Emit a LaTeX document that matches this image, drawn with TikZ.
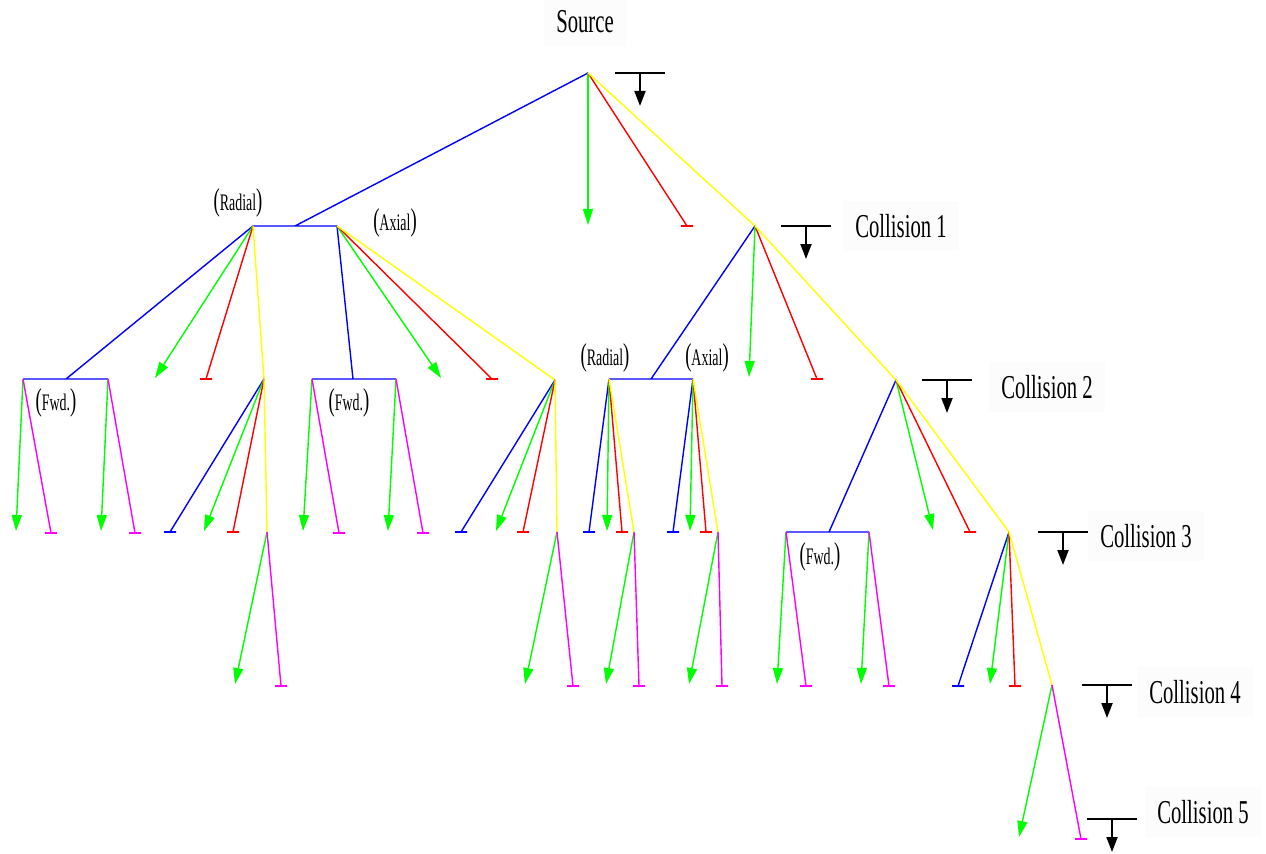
\documentclass[tikz,border=0pt]{standalone}
\usepackage{fontspec}
\setmainfont{Liberation Serif}
\usetikzlibrary{arrows.meta}
\definecolor{bl}{RGB}{0,0,255}
\definecolor{gn}{RGB}{0,255,0}
\definecolor{rd}{RGB}{255,0,0}
\definecolor{yl}{RGB}{255,255,0}
\definecolor{mg}{RGB}{255,0,255}
\definecolor{boxgrey}{RGB}{252,252,252}
\newcommand\squeezetext[1]{\scalebox{0.62}[1]{#1}}
\newcommand\parlabel[1]{\squeezetext{\fontsize{18}{18}\selectfont(\fontsize{13.5}{13.5}\selectfont #1\fontsize{18}{18}\selectfont)}}
\tikzset{
  br/.style={line width=0.8pt},
  esc/.style={br, gn, -{Triangle[length=0.32cm,width=0.2cm]}},
  tee/.style={draw=#1, line width=0.8pt, minimum width=0.24cm, minimum height=0pt, inner sep=0pt, outer sep=0pt},
  lbl/.style={fill=boxgrey, inner xsep=0.24cm, inner ysep=0.26cm, font=\fontsize{19}{19}\selectfont},
  plbl/.style={inner sep=0pt, xscale=0.95},
  dropmark/.pic={
    \draw[line width=1.1pt] (-25,0) -- (25,0);
    \draw[line width=1.1pt, -{Triangle[length=0.3cm,width=0.22cm]}] (0,0) -- (0,33);
  }
}
\begin{document}
\begin{tikzpicture}[x=0.02cm, y=-0.02cm]
\useasboundingbox (0,0) rectangle (1266,854);
% junctions
\coordinate (src) at (588,73);
\coordinate (c1) at (755,226);
\coordinate (c2) at (896,380);
\coordinate (c3) at (1009,532);
\coordinate (c4) at (1052,685);
\coordinate (rad1) at (253,226);
\coordinate (ax1) at (337,226);
\coordinate (m1) at (295,226);
\coordinate (fw1l) at (23,379);
\coordinate (fw1r) at (108,379);
\coordinate (m11) at (66,379);
\coordinate (y1) at (264,379);
\coordinate (y1b) at (267,532);
\coordinate (fw2l) at (312,379);
\coordinate (fw2r) at (396,379);
\coordinate (m12) at (353,379);
\coordinate (y2) at (555,380);
\coordinate (y2b) at (557,532);
\coordinate (rad2) at (609,379);
\coordinate (ax2) at (693,379);
\coordinate (m2) at (651,379);
\coordinate (r2b) at (634,532);
\coordinate (a2b) at (718,532);
\coordinate (fw3l) at (786,532);
\coordinate (fw3r) at (869,532);
\coordinate (m3) at (829,532);
% green ends
\coordinate (g0) at (588,225);
\coordinate (g1) at (155,378);
\coordinate (g2) at (441,378);
\coordinate (g3) at (16,531);
\coordinate (g4) at (101,531);
\coordinate (g5) at (204,531);
\coordinate (g6) at (235,684);
\coordinate (g7) at (303,531);
\coordinate (g8) at (388,531);
\coordinate (g9) at (496,531);
\coordinate (g10) at (525,684);
\coordinate (g11) at (749,377);
\coordinate (g12) at (607,531);
\coordinate (g13) at (606,684);
\coordinate (g14) at (690,531);
\coordinate (g15) at (689,684);
\coordinate (g16) at (933,530);
\coordinate (g17) at (777,684);
\coordinate (g18) at (861,684);
\coordinate (g19) at (990,684);
\coordinate (g20) at (1019,837);
% bar ends
\node[tee=rd] (t0) at (687,226) {};
\node[tee=rd] (t1) at (206,379) {};
\node[tee=rd] (t2) at (492,379) {};
\node[tee=mg] (t3) at (51,533) {};
\node[tee=mg] (t4) at (135,533) {};
\node[tee=bl] (t5) at (170,532) {};
\node[tee=rd] (t6) at (233,532) {};
\node[tee=mg] (t7) at (281,686) {};
\node[tee=mg] (t8) at (339,533) {};
\node[tee=mg] (t9) at (423,533) {};
\node[tee=bl] (t10) at (461,532) {};
\node[tee=rd] (t11) at (523,532) {};
\node[tee=mg] (t12) at (573,686) {};
\node[tee=rd] (t13) at (817,379) {};
\node[tee=bl] (t14) at (589,532) {};
\node[tee=rd] (t15) at (622,532) {};
\node[tee=mg] (t16) at (639,686) {};
\node[tee=bl] (t17) at (673,532) {};
\node[tee=rd] (t18) at (706,532) {};
\node[tee=mg] (t19) at (722,686) {};
\node[tee=rd] (t20) at (970,532) {};
\node[tee=mg] (t21) at (806,686) {};
\node[tee=mg] (t22) at (889,686) {};
\node[tee=bl] (t23) at (958,686) {};
\node[tee=rd] (t24) at (1015,686) {};
\node[tee=mg] (t25) at (1081,839) {};
% source
\draw[br,bl] (src) -- (m1) (rad1) -- (ax1);
\draw[esc] (src) -- (g0);
\draw[br,rd] (src) -- (t0.center);
\draw[br,yl] (src) -- (c1);
% radial / axial
\draw[br,bl] (rad1) -- (m11) (fw1l) -- (fw1r);
\draw[esc] (rad1) -- (g1);
\draw[br,rd] (rad1) -- (t1.center);
\draw[br,yl] (rad1) -- (y1);
\draw[br,bl] (ax1) -- (m12) (fw2l) -- (fw2r);
\draw[esc] (ax1) -- (g2);
\draw[br,rd] (ax1) -- (t2.center);
\draw[br,yl] (ax1) -- (y2);
\draw[esc] (fw1l) -- (g3);
\draw[br,mg] (fw1l) -- (t3.center);
\draw[esc] (fw1r) -- (g4);
\draw[br,mg] (fw1r) -- (t4.center);
\draw[br,bl] (y1) -- (t5.center);
\draw[esc] (y1) -- (g5);
\draw[br,rd] (y1) -- (t6.center);
\draw[br,yl] (y1) -- (y1b);
\draw[esc] (y1b) -- (g6);
\draw[br,mg] (y1b) -- (t7.center);
\draw[esc] (fw2l) -- (g7);
\draw[br,mg] (fw2l) -- (t8.center);
\draw[esc] (fw2r) -- (g8);
\draw[br,mg] (fw2r) -- (t9.center);
\draw[br,bl] (y2) -- (t10.center);
\draw[esc] (y2) -- (g9);
\draw[br,rd] (y2) -- (t11.center);
\draw[br,yl] (y2) -- (y2b);
\draw[esc] (y2b) -- (g10);
\draw[br,mg] (y2b) -- (t12.center);
% collision 1
\draw[br,bl] (c1) -- (m2) (rad2) -- (ax2);
\draw[esc] (c1) -- (g11);
\draw[br,rd] (c1) -- (t13.center);
\draw[br,yl] (c1) -- (c2);
\draw[br,bl] (rad2) -- (t14.center);
\draw[esc] (rad2) -- (g12);
\draw[br,rd] (rad2) -- (t15.center);
\draw[br,yl] (rad2) -- (r2b);
\draw[esc] (r2b) -- (g13);
\draw[br,mg] (r2b) -- (t16.center);
\draw[br,bl] (ax2) -- (t17.center);
\draw[esc] (ax2) -- (g14);
\draw[br,rd] (ax2) -- (t18.center);
\draw[br,yl] (ax2) -- (a2b);
\draw[esc] (a2b) -- (g15);
\draw[br,mg] (a2b) -- (t19.center);
% collision 2
\draw[br,bl] (c2) -- (m3) (fw3l) -- (fw3r);
\draw[esc] (c2) -- (g16);
\draw[br,rd] (c2) -- (t20.center);
\draw[br,yl] (c2) -- (c3);
\draw[esc] (fw3l) -- (g17);
\draw[br,mg] (fw3l) -- (t21.center);
\draw[esc] (fw3r) -- (g18);
\draw[br,mg] (fw3r) -- (t22.center);
% collision 3 and 4
\draw[br,bl] (c3) -- (t23.center);
\draw[esc] (c3) -- (g19);
\draw[br,rd] (c3) -- (t24.center);
\draw[br,yl] (c3) -- (c4);
\draw[esc] (c4) -- (g20);
\draw[br,mg] (c4) -- (t25.center);
% markers
\pic at (640,73) {dropmark};
\pic at (806,226) {dropmark};
\pic at (947,380) {dropmark};
\pic at (1063,532) {dropmark};
\pic at (1107,685) {dropmark};
\pic at (1112,819) {dropmark};
% labels
\node[lbl] (srclbl) at (585,22) {\squeezetext{Source}};
\node[lbl] (c1lbl) at (901,226) {\squeezetext{Collision 1}};
\node[lbl] (c2lbl) at (1047,387) {\squeezetext{Collision 2}};
\node[lbl] (c3lbl) at (1146,536) {\squeezetext{Collision 3}};
\node[lbl] (c4lbl) at (1195,692) {\squeezetext{Collision 4}};
\node[lbl] (c5lbl) at (1203,812) {\squeezetext{Collision 5}};
\node[plbl] (rad1lbl) at (238,203) {\parlabel{Radial}};
\node[plbl] (ax1lbl) at (395,223) {\parlabel{Axial}};
\node[plbl] (rad2lbl) at (605,358) {\parlabel{Radial}};
\node[plbl] (ax2lbl) at (707,358) {\parlabel{Axial}};
\node[plbl] (fw1lbl) at (56,403) {\parlabel{Fwd.}};
\node[plbl] (fw2lbl) at (349,403) {\parlabel{Fwd.}};
\node[plbl] (fw3lbl) at (820,557) {\parlabel{Fwd.}};
\end{tikzpicture}
\end{document}
